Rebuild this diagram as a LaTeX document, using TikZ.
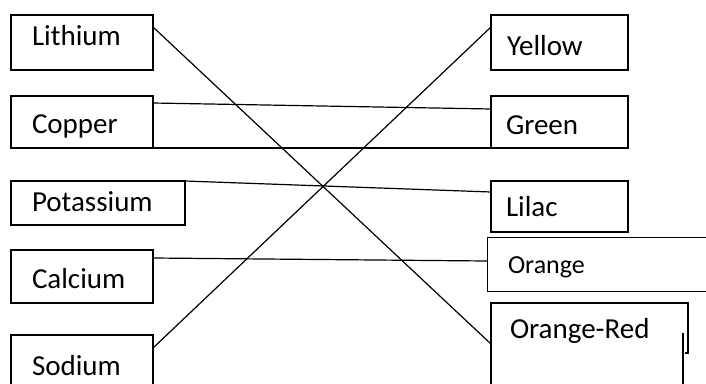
\documentclass[tikz,border=0pt]{standalone}
\usepackage{fontspec}
\setmainfont{Carlito}
\begin{document}
\begin{tikzpicture}[x=1pt,y=-1pt,
  box/.style={draw, line width=1.8pt, anchor=north west, inner ysep=0pt, outer sep=0pt, align=left, font=\fontsize{29}{31}\selectfont},
  link/.style={line width=1.2pt}]
\useasboundingbox (0,0) rectangle (706,383);
\clip (0,0) rectangle (706,383);
% left column
\node[box, inner xsep=21pt, text width=100pt, text height=30pt, text depth=25pt] (li) at (11,15) {Lithium};
\node[box, inner xsep=21pt, text width=100pt, text height=37pt, text depth=15pt] (cu) at (11,96) {Copper};
\node[box, inner xsep=21pt, text width=132pt, text height=30pt, text depth=14pt] (k) at (11,181) {Potassium};
\node[box, inner xsep=21pt, text width=100pt, text height=38pt, text depth=15pt] (ca) at (11,250) {Calcium};
\node[box, inner xsep=21pt, text width=100pt, text height=40pt, text depth=30pt] (na) at (11,335) {Sodium};
% right column
\node[box, inner xsep=16pt, text width=105pt, text height=40pt, text depth=15pt] (ye) at (491,15) {Yellow};
\node[box, inner xsep=15pt, text width=107pt, text height=38pt, text depth=14pt] (gr) at (491,96) {Green};
\node[box, inner xsep=15pt, text width=107pt, text height=35pt, text depth=16pt] (lil) at (491,181) {Lilac};
\node[box, line width=1pt, inner xsep=21pt, text width=191pt, text height=36pt, text depth=18pt, font=\fontsize{26}{28}\selectfont] (or) at (487,237) {Orange};
\node[box, draw=none, inner xsep=19pt, text width=159pt, text height=35pt, text depth=62pt] (ored) at (491,303) {Orange-Red};
\draw[line width=1.8pt] (ored.south west) -- (ored.north west) -- (ored.north east) -- ([yshift=-50pt]ored.north east) -- ++(-3,0);
\draw[line width=1.8pt] ([xshift=-5pt,yshift=-30pt]ored.north east) -- ([xshift=-5pt]ored.south east);
% shared bottom line Copper -- Green
\draw[line width=1.8pt] (cu.south east) -- (gr.south west);
% connectors
\draw[link] ([yshift=-12pt]li.north east) -- ([yshift=-41pt]ored.north west);
\draw[link] ([yshift=-7pt]cu.north east) -- ([yshift=-13pt]gr.north west);
\draw[link] (k.north east) -- ([yshift=-11pt]lil.north west);
\draw[link] ([yshift=-8pt]ca.north east) -- ([yshift=-24pt]or.north west);
\draw[link] ([yshift=-13pt]na.north east) -- ([yshift=-12pt]ye.north west);
\end{tikzpicture}
\end{document}
